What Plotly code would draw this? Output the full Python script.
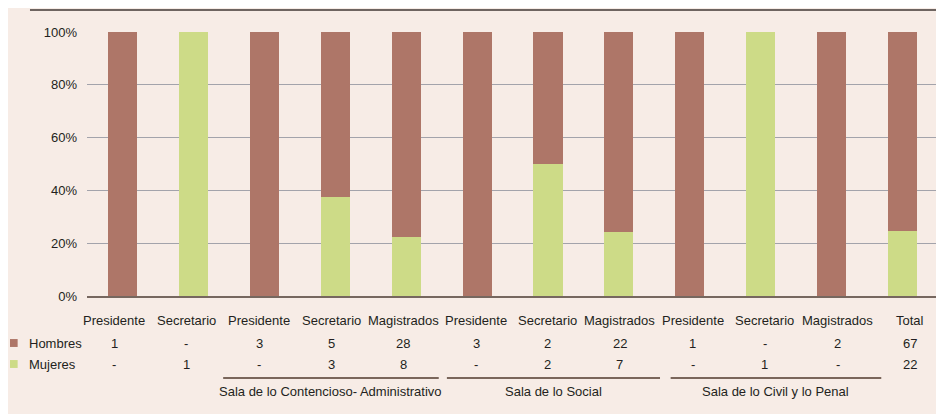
import plotly.graph_objects as go

# Datos: magistrados por cargo y sexo
cargos = ["Presidente", "Secretario", "Presidente", "Secretario", "Magistrados",
          "Presidente", "Secretario", "Magistrados", "Presidente", "Secretario",
          "Magistrados", "Total"]
hombres = [1, 0, 3, 5, 28, 3, 2, 22, 1, 0, 2, 67]
mujeres = [0, 1, 0, 3, 8, 0, 2, 7, 0, 1, 0, 22]
salas = ["Sala de lo Contencioso- Administrativo", "Sala de lo Social",
         "Sala de lo Civil y lo Penal"]
salas_idx = [(2, 4), (5, 7), (8, 10)]
y_ticks = [0, 0.2, 0.4, 0.6, 0.8, 1.0]
y_ticktext = ["0%", "20%", "40%", "60%", "80%", "100%"]

COL_H = "#AE7668"
COL_M = "#CDDB87"
BG = "#F7ECE6"
TXT = "#231F20"
LINEA = "#7A665B"
FONT = "Liberation Sans, Arial, sans-serif"
FS = 13

x = list(range(len(cargos)))

fig = go.Figure()
fig.add_trace(go.Bar(x=x, y=mujeres, name="Mujeres", marker_color=COL_M,
                     marker_line_width=0, width=0.41))
fig.add_trace(go.Bar(x=x, y=hombres, name="Hombres", marker_color=COL_H,
                     marker_line_width=0, width=0.41))

anots = []
shapes = []


def fmt(v):
    return "-" if v == 0 else str(v)


# tabla bajo el gráfico
for i, c in enumerate(cargos):
    dx = round(-8 + 1.35 * i)
    for txt, ys in ((c, -24), (fmt(hombres[i]), -47), (fmt(mujeres[i]), -68)):
        anots.append(dict(x=i, y=0, xref="x", yref="paper", text=txt,
                          showarrow=False, xanchor="center", yanchor="middle",
                          xshift=dx, yshift=ys, font=dict(size=FS, color=TXT)))

# leyenda en filas
for nombre, col, ys in (("Hombres", COL_H, -47), ("Mujeres", COL_M, -68)):
    yc = ys / 264
    shapes.append(dict(type="rect", xref="paper", yref="paper",
                       x0=-0.0905, x1=-0.0815, y0=yc - 0.015, y1=yc + 0.015,
                       fillcolor=col, line_width=0))
    anots.append(dict(x=-0.0705, y=0, xref="paper", yref="paper", text=nombre,
                      showarrow=False, xanchor="left", yanchor="middle",
                      yshift=ys, font=dict(size=FS, color=TXT)))

# líneas y nombres de sala
for g, (sala, (a, b)) in enumerate(zip(salas, salas_idx)):
    x0 = a - 0.58 + 0.155 * g
    x1 = b + 0.46 + 0.12 * g
    shapes.append(dict(type="line", xref="x", yref="paper", x0=x0, x1=x1,
                       y0=-0.311, y1=-0.311, line=dict(color=LINEA, width=2)))
    anots.append(dict(x=(x0 + x1) / 2, y=0, xref="x", yref="paper", text=sala,
                      showarrow=False, xanchor="center", yanchor="middle",
                      yshift=-95, font=dict(size=FS, color=TXT)))

# línea superior
shapes.append(dict(type="line", xref="paper", yref="paper", x0=-0.067, x1=1.01,
                   y0=1.0833, y1=1.0833, line=dict(color="#6E6460", width=2)))

fig.update_layout(
    width=944, height=414,
    barmode="stack", barnorm="fraction",
    paper_bgcolor=BG, plot_bgcolor=BG,
    margin=dict(l=79, r=14, t=24, b=126),
    showlegend=False,
    font=dict(family=FONT, size=FS, color=TXT),
    annotations=anots, shapes=shapes,
)
fig.update_xaxes(range=[-0.5, len(cargos) - 0.5], showticklabels=False,
                 showgrid=False, showline=True, linecolor="#76675F", linewidth=2,
                 zeroline=False)
fig.update_yaxes(range=[0, 1], tickvals=y_ticks, ticktext=y_ticktext,
                 showgrid=True, gridcolor="#A3A3AB", gridwidth=1,
                 zeroline=False, showline=False, ticklabelstandoff=9,
                 tickfont=dict(size=FS, color=TXT))

fig.write_html("out.html")
